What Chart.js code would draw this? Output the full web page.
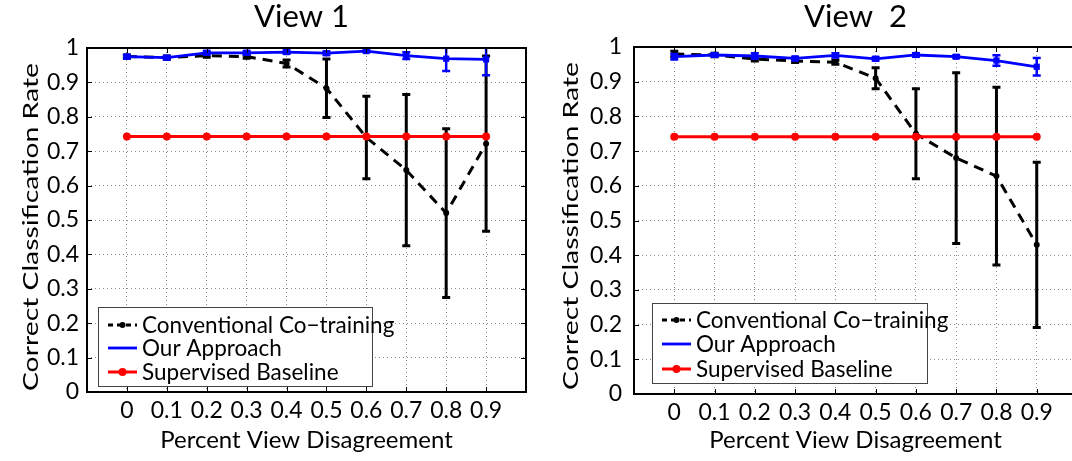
<!DOCTYPE html>
<html><head><meta charset="utf-8">
<script src="https://cdn.jsdelivr.net/npm/chart.js@4.4.0/dist/chart.umd.min.js"></script>
<style>
html,body{margin:0;padding:0;background:#fff}
body{width:1072px;height:461px;overflow:hidden;position:relative}
#w1{position:absolute;left:0;top:0;width:536px;height:461px}
#w2{position:absolute;left:536px;top:0;width:560px;height:461px}
</style></head><body>
<div id="w1"><canvas id="c1"></canvas></div>
<div id="w2"><canvas id="c2"></canvas></div>
<script>
// ---- data ----
const xValues = [0, 0.1, 0.2, 0.3, 0.4, 0.5, 0.6, 0.7, 0.8, 0.9];
const xTickLabels = ['0', '0.1', '0.2', '0.3', '0.4', '0.5', '0.6', '0.7', '0.8', '0.9'];
const yTicks = [0, 0.1, 0.2, 0.3, 0.4, 0.5, 0.6, 0.7, 0.8, 0.9, 1];
const yTickLabels = ['0', '0.1', '0.2', '0.3', '0.4', '0.5', '0.6', '0.7', '0.8', '0.9', '1'];
const seriesNames = ['Conventional Co\u2212training', 'Our Approach', 'Supervised Baseline'];
const chartTitles = ['View 1', 'View  2'];
const xAxisTitle = 'Percent View Disagreement';
const yAxisTitle = 'Correct Classification Rate';

// View 1
const v1Conventional    = [0.975, 0.972, 0.978, 0.975, 0.955, 0.883, 0.740, 0.645, 0.520, 0.722];
const v1ConventionalErr = [0.005, 0.005, 0.005, 0.005, 0.010, 0.085, 0.120, 0.220, 0.245, 0.255];
const v1Ours            = [0.975, 0.972, 0.986, 0.986, 0.988, 0.985, 0.991, 0.978, 0.969, 0.967];
const v1OursErr         = [0.005, 0.005, 0.005, 0.005, 0.005, 0.005, 0.003, 0.010, 0.036, 0.046];
const v1Baseline        = [0.743, 0.743, 0.743, 0.743, 0.743, 0.743, 0.743, 0.743, 0.743, 0.743];

// View 2
const v2Conventional    = [0.980, 0.977, 0.965, 0.960, 0.956, 0.910, 0.750, 0.680, 0.628, 0.430];
const v2ConventionalErr = [0.008, 0.005, 0.005, 0.005, 0.006, 0.030, 0.130, 0.246, 0.256, 0.238];
const v2Ours            = [0.972, 0.977, 0.974, 0.967, 0.976, 0.966, 0.977, 0.972, 0.961, 0.943];
const v2OursErr         = [0.008, 0.005, 0.008, 0.005, 0.006, 0.005, 0.005, 0.004, 0.015, 0.025];
const v2Baseline        = [0.741, 0.741, 0.741, 0.741, 0.741, 0.741, 0.741, 0.741, 0.741, 0.741];

// ---- helpers ----
const FONT = 'Lato, "Open Sans", "DejaVu Sans", sans-serif';
Chart.defaults.font.family = FONT;
Chart.defaults.color = '#000';

function pts(vals) { return xValues.map((x, i) => ({x: x, y: vals[i]})); }

function makeDatasets(conv, convErr, ours, oursErr, base) {
  return [
    {label: seriesNames[0], data: pts(conv), errors: convErr, order: 3,
     borderColor: '#000', backgroundColor: '#000', borderWidth: 3, borderDash: [10, 7],
     pointRadius: 3, pointStyle: 'circle', pointBorderWidth: 0, errWidth: 3, errCap: 4, legendMarker: 3},
    {label: seriesNames[1], data: pts(ours), errors: oursErr, order: 2,
     borderColor: '#0000ff', backgroundColor: '#0000ff', borderWidth: 2.8,
     pointRadius: 4.4, pointStyle: 'rect', pointBorderWidth: 0, errWidth: 2.5, errCap: 4, legendMarker: 0},
    {label: seriesNames[2], data: pts(base), order: 1,
     borderColor: '#ff0000', backgroundColor: '#ff0000', borderWidth: 3,
     pointRadius: 4, pointStyle: 'circle', pointBorderWidth: 0, legendMarker: 4}
  ];
}

const decorPlugin = {
  id: 'decor',
  afterDatasetDraw(chart, args) {
    const ds = chart.data.datasets[args.index];
    if (!ds.errors) return;
    const ctx = chart.ctx, a = chart.chartArea;
    const xs = chart.scales.x, ys = chart.scales.y;
    ctx.save();
    ctx.beginPath(); ctx.rect(a.left, a.top, a.right - a.left, a.bottom - a.top); ctx.clip();
    ctx.strokeStyle = ds.borderColor; ctx.lineWidth = ds.errWidth; ctx.setLineDash([]);
    ds.data.forEach((p, i) => {
      const e = ds.errors[i];
      const px = xs.getPixelForValue(p.x);
      const y1 = ys.getPixelForValue(p.y + e), y2 = ys.getPixelForValue(p.y - e);
      ctx.beginPath();
      ctx.moveTo(px, y1); ctx.lineTo(px, y2);
      ctx.moveTo(px - ds.errCap, y1); ctx.lineTo(px + ds.errCap, y1);
      ctx.moveTo(px - ds.errCap, y2); ctx.lineTo(px + ds.errCap, y2);
      ctx.stroke();
    });
    ctx.restore();
  },
  afterDraw(chart, args, opts) {
    const ctx = chart.ctx, a = chart.chartArea;
    const xs = chart.scales.x, ys = chart.scales.y;
    ctx.save();
    // inward ticks
    ctx.strokeStyle = '#000'; ctx.lineWidth = 1; ctx.setLineDash([]);
    ctx.beginPath();
    xValues.forEach(v => {
      const px = Math.round(xs.getPixelForValue(v)) + 0.5;
      ctx.moveTo(px, a.bottom); ctx.lineTo(px, a.bottom - 5);
      ctx.moveTo(px, a.top); ctx.lineTo(px, a.top + 5);
    });
    yTicks.forEach(v => {
      const py = Math.round(ys.getPixelForValue(v)) + 0.5;
      ctx.moveTo(a.left, py); ctx.lineTo(a.left + 5, py);
      ctx.moveTo(a.right, py); ctx.lineTo(a.right - 5, py);
    });
    ctx.stroke();
    // box
    ctx.lineWidth = 2;
    ctx.strokeRect(a.left, a.top, a.right - a.left, a.bottom - a.top);

    // chart title
    ctx.fillStyle = '#000';
    ctx.font = '31px ' + FONT;
    ctx.textAlign = 'center'; ctx.textBaseline = 'alphabetic';
    ctx.fillText(opts.title, (a.left + a.right) / 2 + opts.titleDx, opts.titleBaseline);

    // y axis title (rotated, stretched along its length like the reference)
    ctx.save();
    ctx.font = '22px ' + FONT;
    const tw = ctx.measureText(yAxisTitle).width;
    ctx.translate(opts.yTitleBaseX, opts.yTitleCy);
    ctx.rotate(-Math.PI / 2);
    ctx.scale(opts.yTitleLen / tw, 1);
    ctx.textAlign = 'center'; ctx.textBaseline = 'alphabetic';
    ctx.fillText(yAxisTitle, 0, 0);
    ctx.restore();

    // legend
    const L = opts.legend;
    const x0 = a.left + L.dx, y0 = a.bottom - L.dyBottom - L.h;
    ctx.fillStyle = '#fff';
    ctx.fillRect(x0, y0, L.w, L.h);
    ctx.strokeStyle = '#444'; ctx.lineWidth = 1;
    ctx.strokeRect(x0 + 0.5, y0 + 0.5, L.w, L.h);
    chart.data.datasets.forEach((ds, i) => {
      const y = y0 + L.rows[i];
      ctx.strokeStyle = ds.borderColor; ctx.lineWidth = ds.borderWidth;
      ctx.setLineDash(ds.borderDash ? [5, 4] : []);
      ctx.beginPath(); ctx.moveTo(x0 + 10, y); ctx.lineTo(x0 + 39, y); ctx.stroke();
      ctx.setLineDash([]);
      if (ds.legendMarker) {
        ctx.fillStyle = ds.borderColor;
        ctx.beginPath(); ctx.arc(x0 + 24.5, y, ds.legendMarker, 0, Math.PI * 2); ctx.fill();
      }
      ctx.fillStyle = '#000';
      ctx.font = '22.5px ' + FONT;
      ctx.textBaseline = 'middle'; ctx.textAlign = 'left';
      ctx.fillText(ds.label, x0 + 44, y + 1);
    });
    ctx.restore();
  }
};

function makeChart(id, datasets, cfg) {
  return new Chart(document.getElementById(id), {
    type: 'line',
    data: {datasets: datasets},
    plugins: [decorPlugin],
    options: {
      responsive: true, maintainAspectRatio: false, animation: false,
      layout: {padding: {left: 0, right: cfg.padRight, top: cfg.padTop, bottom: 0}},
      plugins: {
        legend: {display: false}, tooltip: {enabled: false}, title: {display: false},
        decor: cfg.decor
      },
      scales: {
        x: {
          type: 'linear', min: -0.1, max: 1.0,
          afterBuildTicks: s => { s.ticks = xValues.map(v => ({value: v})); },
          afterFit: s => { s.height = cfg.xHeight; },
          ticks: {autoSkip: false, maxRotation: 0, padding: 5, color: '#000',
                  font: {size: 23, family: FONT},
                  callback: (v, i) => xTickLabels[i]},
          grid: {color: '#8a8a8a', lineWidth: 1, drawTicks: false},
          border: {display: false, dash: [1, 3]},
          title: {display: true, text: xAxisTitle, color: '#000',
                  font: {size: 24, family: FONT, lineHeight: 1.2}, padding: {top: 0, bottom: 6}}
        },
        y: {
          type: 'linear', min: 0, max: 1,
          afterBuildTicks: s => { s.ticks = yTicks.map(v => ({value: v})); },
          afterFit: s => { s.width = cfg.yWidth; },
          ticks: {autoSkip: false, padding: cfg.yTickPad, color: '#000',
                  font: {size: 23, family: FONT},
                  callback: (v, i) => yTickLabels[i]},
          grid: {color: '#8a8a8a', lineWidth: 1, drawTicks: false},
          border: {display: false, dash: [1, 3]},
          title: {display: false}
        }
      }
    }
  });
}

makeChart('c1',
  makeDatasets(v1Conventional, v1ConventionalErr, v1Ours, v1OursErr, v1Baseline),
  {padRight: 10, padTop: 48, xHeight: 69, yWidth: 87, yTickPad: 8,
   decor: {title: chartTitles[0], titleDx: -5, titleBaseline: 27,
           yTitleBaseX: 38, yTitleCy: 227, yTitleLen: 328,
           legend: {dx: 11, dyBottom: 6, w: 274, h: 79, rows: [18, 41, 65]}}});

makeChart('c2',
  makeDatasets(v2Conventional, v2ConventionalErr, v2Ours, v2OursErr, v2Baseline),
  {padRight: 19, padTop: 47, xHeight: 67, yWidth: 98, yTickPad: 12,
   decor: {title: chartTitles[1], titleDx: 0, titleBaseline: 27,
           yTitleBaseX: 42, yTitleCy: 226, yTitleLen: 328,
           legend: {dx: 18, dyBottom: 11, w: 275, h: 80, rows: [17, 41, 66]}}});
</script>
</body></html>
